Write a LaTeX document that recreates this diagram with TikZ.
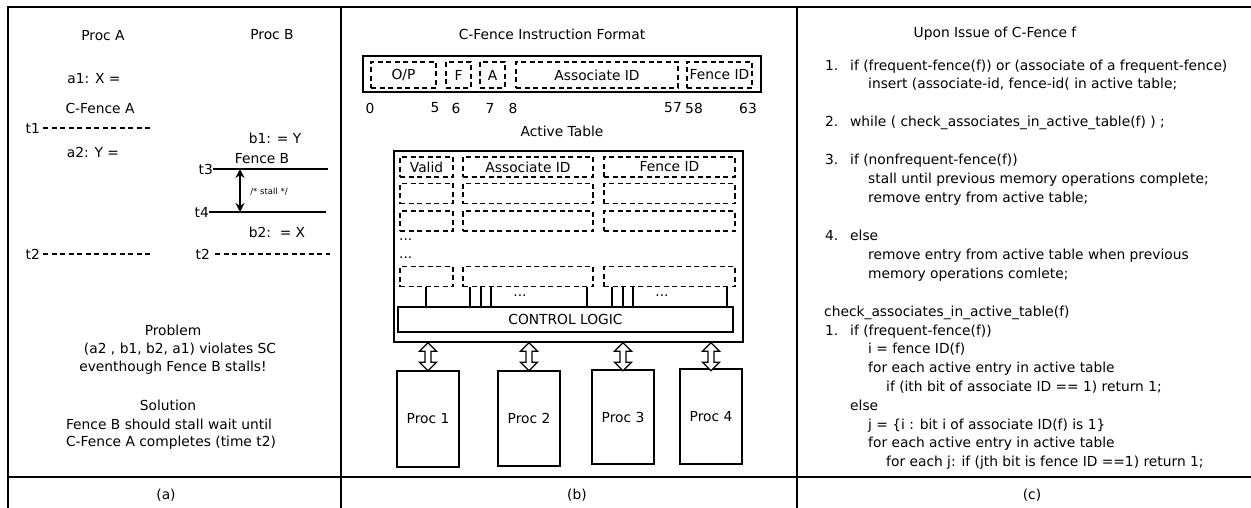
\documentclass[tikz,border=0pt]{standalone}
\usepackage{fontspec}
\setmainfont{DejaVu Sans}
\usepackage{tikz}
\usetikzlibrary{arrows.meta,calc}

\tikzset{
  lbl/.style={inner sep=0pt, font=\fontsize{13.8}{16}\selectfont},
  code/.style={lbl, anchor=west, text height=10pt, text depth=3pt},
  tline/.style={line width=1.8pt, dash pattern=on 5pt off 3.5pt},
  fld/.style={draw, line width=1.2pt, dash pattern=on 5pt off 3.5pt, inner sep=0pt},
  cell/.style={fld, minimum height=20pt},
  solidbox/.style={draw, line width=1.4pt, inner sep=0pt},
  fatarrow/.style={draw, line width=1.3pt, fill=white, line join=miter}
}

\begin{document}
\begin{tikzpicture}[x=1pt,y=-1pt]
	\useasboundingbox (0,0) rectangle (1251,508);
	% frame
	\draw[line width=1.6pt] (8,508) -- (8,7) -- (1251,7);
	\draw[line width=1.6pt] (341,7) -- (341,508);
	\draw[line width=1.6pt] (797,7) -- (797,508);
	\draw[line width=1.3pt] (8,477) -- (1251,477);
	
	% (a)
	\node[lbl] (procA) at (103,36) {Proc A};
	\node[lbl] (procB) at (272,35) {Proc B};
	\node[lbl] (a1) at (94,79) {a1: X =};
	\node[lbl] (cfA) at (100,108) {C-Fence A};
	\node[lbl] (a2) at (93,152) {a2: Y =};
	\node[lbl] (b1) at (275,138) {b1: = Y};
	\node[lbl] (fB) at (262,159) {Fence B};
	\node[lbl] (b2) at (277,232) {b2:\ \ = X};
	
	\node[lbl, anchor=east] (t1) at (40,128) {t1};
	\node[lbl, anchor=east] (t2a) at (40,254) {t2};
	\node[lbl, anchor=east] (t3) at (213,169) {t3};
	\node[lbl, anchor=east] (t4) at (209,212) {t4};
	\node[lbl, anchor=east] (t2b) at (210,254) {t2};
	\draw[tline] ($(t1.east)+(3,0)$) -- ++(110,0);
	\draw[tline] ($(t2a.east)+(3,0)$) -- ++(110,0);
	\draw[tline] ($(t2b.east)+(5,0)$) -- ++(115,0);
	\draw[line width=1.8pt] (t3.east) -- ++(115,0) coordinate (t3e);
	\draw[line width=1.8pt] (t4.east) -- ++(117,0) coordinate (t4e);
	
	\coordinate (st) at (240,169);
	\coordinate (sb) at (240,212);
	\draw[line width=1.6pt, {Stealth[length=9pt,width=9pt]}-{Stealth[length=9pt,width=9pt]}] (st) -- (sb);
	\node[inner sep=0pt, font=\fontsize{8.5}{10}\selectfont] (stall) at (269,192) {/* stall */};
	
	\node[lbl] (prob) at (173,330) {Problem};
	\node[lbl] (prob1) at (180,349) {(a2 , b1, b2, a1) violates SC};
	\node[lbl] (prob2) at (173,368) {eventhough Fence B stalls!};
	\node[lbl] (sol) at (168,405) {Solution};
	\node[lbl] (sol1) at (169,424) {Fence B should stall wait until};
	\node[lbl] (sol2) at (171,443) {C-Fence A completes (time t2)};
	\node[lbl] (capa) at (166,495) {(a)};
	
	% (b)
	\node[lbl] (fmt) at (552,34) {C-Fence Instruction Format};
	\node[solidbox, minimum width=398pt, minimum height=36pt] (instr) at (562,74) {};
	\node[fld, minimum width=65pt, minimum height=26pt, lbl] (op) at (403.5,75) {O/P};
	\node[fld, minimum width=25pt, minimum height=26pt, lbl] (ff) at (458.5,75) {F};
	\node[fld, minimum width=25pt, minimum height=26pt, lbl] (fa) at (492.5,75) {A};
	\node[fld, minimum width=162pt, minimum height=26pt, lbl] (fassoc) at (597,75) {Associate ID};
	\node[fld, minimum width=65pt, minimum height=26pt, lbl] (ffid) at (719.5,75) {Fence ID};
	\foreach \b/\x in {0/370,5/435,6/456,7/490,8/513,57/673,58/694,63/748}
		\node[lbl] (bit\b) at (\x,108) {\b};
	
	\node[lbl] (act) at (562,131) {Active Table};
	\node[solidbox, minimum width=349pt, minimum height=191pt] (tbl) at (568.5,246.5) {};
	\foreach \r/\y in {1/167,2/193.5,3/221,4/276.5} {
		\node[cell, minimum width=53pt] (v\r) at (426.5,\y) {};
		\node[cell, minimum width=130pt] (as\r) at (528,\y) {};
		\node[cell, minimum width=131pt] (fi\r) at (669.5,\y) {};
	}
	\node[lbl] at (v1) {Valid};
	\node[lbl] at (as1) {Associate ID};
	\node[lbl] at (fi1) {Fence ID};
	\node[lbl, anchor=west] (dots1) at (399,240) {...};
	\node[lbl, anchor=west] (dots2) at (399,258) {...};
	
	\node[solidbox, minimum width=335pt, minimum height=25pt, lbl] (ctrl) at (565.5,319.5) {CONTROL LOGIC};
	\foreach \x in {426,470,481,491,587,612,623,633,727}
		\draw[line width=1.3pt] (\x,0 |- v4.south) -- (\x,0 |- ctrl.north);
	\node[lbl] (dots3) at (520,296) {...};
	\node[lbl] (dots4) at (662,296) {...};
	
	\node[solidbox, minimum width=62pt, minimum height=96pt, lbl] (p1) at (428,419) {Proc 1};
	\node[solidbox, minimum width=62pt, minimum height=95pt, lbl] (p2) at (529,418.5) {Proc 2};
	\node[solidbox, minimum width=62pt, minimum height=94pt, lbl] (p3) at (623,417) {Proc 3};
	\node[solidbox, minimum width=62pt, minimum height=95pt, lbl] (p4) at (711,416.5) {Proc 4};
	% hollow two-way arrows, table -> procs
	\foreach \p in {p1,p2,p3,p4}
		\draw[fatarrow] (tbl.south -| \p.north) -- ++(8.5,8.5) -- ++(-5.5,0) -- ++(0,11)
			-- ++(5.5,0) -- ++(-8.5,8.5) -- ++(-8.5,-8.5) -- ++(5.5,0) -- ++(0,-11)
			-- ++(-5.5,0) -- cycle;
	\node[lbl] (capb) at (577,495) {(b)};
	
	% (c)
	\node[lbl] (issue) at (995,34) {Upon Issue of C-Fence f};
	\node[code] (n1) at (825,67) {1.};
	\node[code] (l1) at (850,67) {if (frequent-fence(f)) or (associate of a frequent-fence)};
	\node[code] (l1b) at (868,85) {insert (associate-id, fence-id( in active table;};
	\node[code] (n2) at (825,123) {2.};
	\node[code] (l2) at (850,123) {while ( check\_associates\_in\_active\_table(f) ) ;};
	\node[code] (n3) at (825,161) {3.};
	\node[code] (l3) at (850,161) {if (nonfrequent-fence(f))};
	\node[code] (l3b) at (868,180) {stall until previous memory operations complete;};
	\node[code] (l3c) at (868,199) {remove entry from active table;};
	\node[code] (n4) at (825,237) {4.};
	\node[code] (l4) at (850,237) {else};
	\node[code] (l4b) at (868,256) {remove entry from active table when previous};
	\node[code] (l4c) at (868,275) {memory operations comlete;};
	
	\node[code] (chk) at (824,313) {check\_associates\_in\_active\_table(f)};
	\node[code] (m1) at (825,332) {1.};
	\node[code] (k1) at (850,332) {if (frequent-fence(f))};
	\node[code] (k2) at (868,350) {i = fence ID(f)};
	\node[code] (k3) at (868,369) {for each active entry in active table};
	\node[code] (k4) at (886,388) {if (ith bit of associate ID == 1) return 1;};
	\node[code] (k5) at (850,407) {else};
	\node[code] (k6) at (868,426) {j = \{i : bit i of associate ID(f) is 1\}};
	\node[code] (k7) at (868,444) {for each active entry in active table};
	\node[code] (k8) at (886,463) {for each j: if (jth bit is fence ID ==1) return 1;};
	\node[lbl] (capc) at (1032,495) {(c)};
\end{tikzpicture}
\end{document}
